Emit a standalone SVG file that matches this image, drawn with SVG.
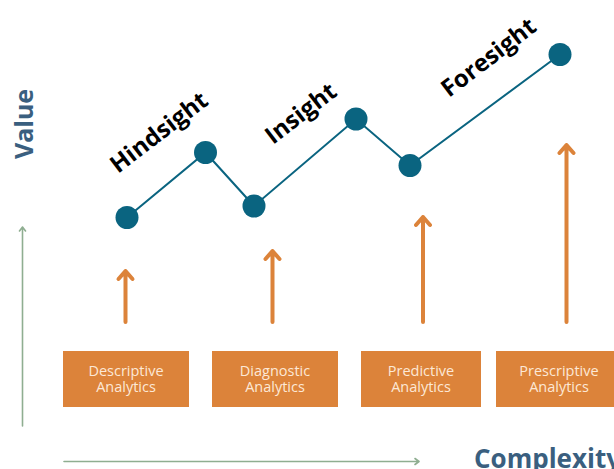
<svg xmlns="http://www.w3.org/2000/svg" width="614" height="469" viewBox="0 0 614 469">
<style>
.box{fill:#dc833a}
.btxt{font-family:"Open Sans","Noto Sans",sans-serif;font-size:14.5px;fill:#fce8d6;text-anchor:middle}
.dot{fill:#0a6480}
.lbl{font-family:"Open Sans","Noto Sans",sans-serif;font-weight:bold;font-size:24px;fill:#000}
.axis{font-family:"Open Sans","Noto Sans",sans-serif;font-weight:bold;fill:#3a5f7f}
.ax{stroke:#8fae91;stroke-width:1.6;fill:none;stroke-linecap:round;stroke-linejoin:round}
.up{stroke:#dc833a;stroke-width:4;fill:none;stroke-linecap:round;stroke-linejoin:round}
.trend{stroke:#0a6480;stroke-width:2;fill:none}
</style>
<rect width="614" height="469" fill="#fff"/>
<g id="connectors">
  <polyline class="trend" points="127,217.5 205.5,152.5 254,206 356,119 410,165.5 560,54.5"/>
  <path class="ax" d="M22.5,426 V227 M19.5,231 L22.5,227 L25.5,231"/>
  <path class="ax" d="M64,461.5 H419 M415,458.5 L419,461.5 L415,464.5"/>
  <path class="up" d="M125.5,322 V271 M118.5,279 L125.5,271 L132.5,279"/>
  <path class="up" d="M272.5,322 V251 M265.5,259 L272.5,251 L279.5,259"/>
  <path class="up" d="M423,322 V217 M416,225 L423,217 L430,225"/>
  <path class="up" d="M566.5,322 V145 M559.5,153 L566.5,145 L573.5,153"/>
</g>
<g id="point-1"><circle class="dot" cx="127" cy="217.5" r="11.5"/></g>
<g id="point-2"><circle class="dot" cx="205.5" cy="152.5" r="11.5"/></g>
<g id="point-3"><circle class="dot" cx="254" cy="206" r="11.5"/></g>
<g id="point-4"><circle class="dot" cx="356" cy="119" r="11.5"/></g>
<g id="point-5"><circle class="dot" cx="410" cy="165.5" r="11.5"/></g>
<g id="point-6"><circle class="dot" cx="560" cy="54.5" r="11.5"/></g>
<g id="hindsight"><text class="lbl" transform="translate(118,174) rotate(-37.5)">Hindsight</text></g>
<g id="insight"><text class="lbl" transform="translate(273,145) rotate(-37.5)">Insight</text></g>
<g id="foresight"><text class="lbl" transform="translate(449,98) rotate(-37.5)">Foresight</text></g>
<g id="descriptive"><rect class="box" x="63" y="351" width="126" height="56"/><text class="btxt"><tspan x="126" y="376">Descriptive</tspan><tspan x="126" y="391.5">Analytics</tspan></text></g>
<g id="diagnostic"><rect class="box" x="212" y="351" width="126" height="56"/><text class="btxt"><tspan x="275" y="376">Diagnostic</tspan><tspan x="275" y="391.5">Analytics</tspan></text></g>
<g id="predictive"><rect class="box" x="361" y="351" width="120" height="56"/><text class="btxt"><tspan x="421" y="376">Predictive</tspan><tspan x="421" y="391.5">Analytics</tspan></text></g>
<g id="prescriptive"><rect class="box" x="496" y="351" width="126" height="56"/><text class="btxt"><tspan x="559" y="376">Prescriptive</tspan><tspan x="559" y="391.5">Analytics</tspan></text></g>
<g id="value-label"><text class="axis" font-size="25" text-anchor="middle" transform="translate(33,124) rotate(-90)">Value</text></g>
<g id="complexity-label"><text class="axis" font-size="26" x="474" y="468">Complexity</text></g>
</svg>
